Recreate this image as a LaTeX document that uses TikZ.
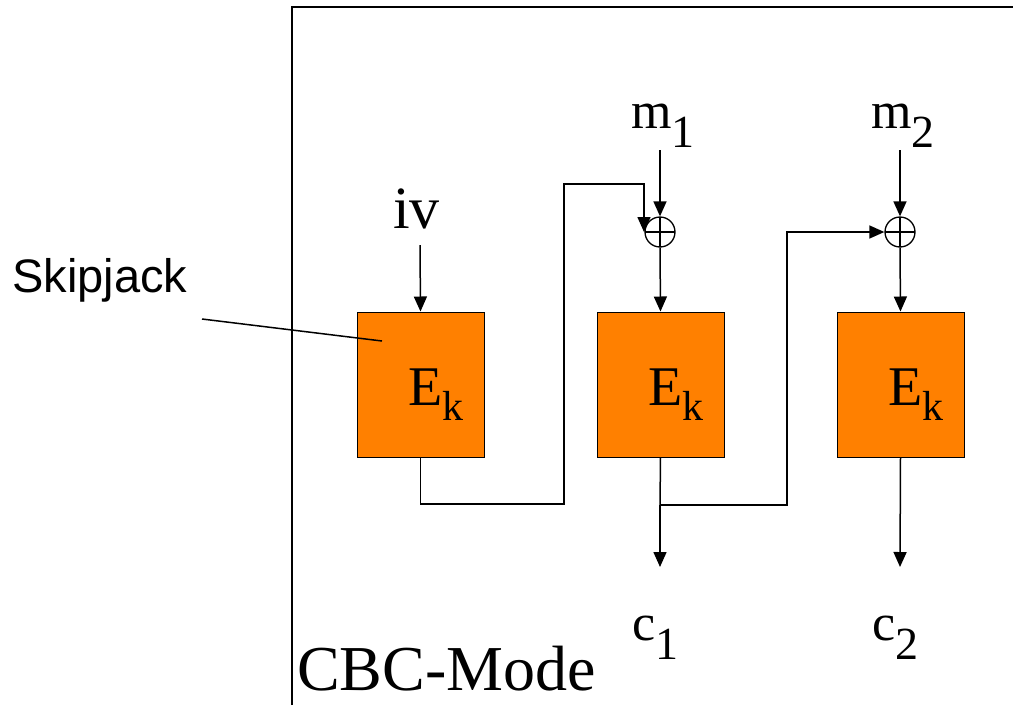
\documentclass[tikz,border=0pt]{standalone}
\usepackage{fontspec}
\setmainfont{Liberation Serif}
\setsansfont{Liberation Sans}
\usetikzlibrary{arrows.meta,calc,positioning}

\definecolor{blockorange}{RGB}{255,128,0}

% label with a low, nearly full size index
\newcommand{\idxlbl}[4]{#1\raisebox{-#4}{\fontsize{#3}{#3}\selectfont #2}}

\tikzset{
  block/.style={draw, line width=1pt, fill=blockorange, minimum width=127pt,
    minimum height=145pt, inner sep=0pt},
  xorgate/.style={draw, circle, line width=1.3pt, minimum size=30pt, inner sep=0pt,
    path picture={\draw[line width=1.3pt]
      (path picture bounding box.north) -- (path picture bounding box.south)
      (path picture bounding box.west) -- (path picture bounding box.east);}},
  wire/.style={line width=1.5pt},
  arr/.style={line width=1.5pt, -{Triangle[length=15pt,width=13pt]}},
  lbl/.style={inner sep=0pt, anchor=base west, font=\fontsize{52}{60}\selectfont}
}

\begin{document}
\begin{tikzpicture}[x=1pt,y=-1pt]
\useasboundingbox (0,0) rectangle (1013,705);

% frame
\draw[wire] (292,705) |- (1013,7);

% cipher blocks
\node[block] (b1) at (420.5,384.5) {};
\node[block] (b2) at (660.5,384.5) {};
\node[block] (b3) at (900.5,384.5) {};
\foreach \b/\x in {b1/408,b2/648,b3/888}
  \node[lbl, font=\fontsize{56}{60}\selectfont] at (\x,405) {\idxlbl{E}{k}{42}{15pt}};

% xor gates
\node[xorgate] (x1) at (660,232) {};
\node[xorgate] (x2) at (900,232) {};

% inputs
\node[lbl, font=\fontsize{60}{66}\selectfont] (iv) at (393,228) {iv};
\node[lbl] (m1) at (631,128) {\idxlbl{m}{1}{46}{19pt}};
\node[lbl] (m2) at (871,128) {\idxlbl{m}{2}{46}{19pt}};
\coordinate (ivin) at (420,245);
\coordinate (m1in) at (660,150);
\coordinate (m2in) at (900,150);
\draw[arr] (ivin) -- (b1.north);
\draw[arr] (m1in) -- (x1.north);
\draw[arr] (m2in) -- (x2.north);
\draw[arr] (x1.south) -- (b2.north);
\draw[arr] (x2.south) -- (b3.north);

% chaining
\draw[arr] (b1.south) |- (564,504) |- (644,184) -- (x1.west -| 644,0);
\coordinate (j1) at (660,505);
\draw[wire] (b2.south) -- (j1);
\draw[arr] (j1) -| (787,232) -- (x2.west);

% outputs
\coordinate (c1out) at (660,567);
\coordinate (c2out) at (900,567);
\draw[arr] (j1) -- (c1out);
\draw[arr] (b3.south) -- (c2out);
\node[lbl] (c1) at (632,640) {\idxlbl{c}{1}{46}{19pt}};
\node[lbl] (c2) at (872,640) {\idxlbl{c}{2}{46}{19pt}};

% pointer label
\node[lbl, font=\sffamily\fontsize{47}{52}\selectfont] (sj) at (12,292) {Skipjack};
\coordinate (sjtip) at (382,341);
\draw[wire] (202,319) -- (sjtip);

\node[lbl, font=\fontsize{64}{70}\selectfont] (mode) at (297,690) {CBC-Mode};

\end{tikzpicture}
\end{document}
